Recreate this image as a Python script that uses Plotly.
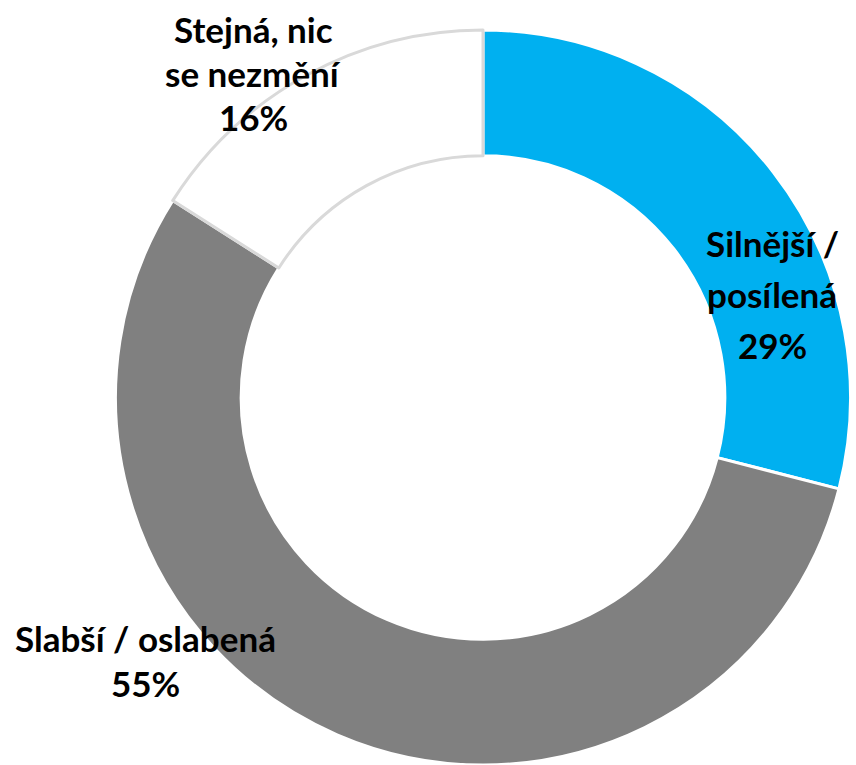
import plotly.graph_objects as go

categories = ["Silnější / posílená", "Slabší / oslabená", "Stejná, nic se nezmění"]
values = [29, 55, 16]
label_lines = [["Silnější /", "posílená"], ["Slabší / oslabená"], ["Stejná, nic", "se nezmění"]]
colors = ["#00B0F0", "#808080", "#FFFFFF"]
border_colors = ["#FFFFFF", "#FFFFFF", "#D9D9D9"]

W, H = 856, 765
fig = go.Figure(go.Pie(
    labels=categories, values=values, sort=False, direction="clockwise", rotation=0,
    hole=0.658, textinfo="none", showlegend=False,
    marker=dict(colors=colors, line=dict(color=border_colors, width=3)),
    domain=dict(x=[(483 - 368) / W, (483 + 368) / W], y=[0, 735 / H]),
))

# label anchor positions (pixels from top-left): x center, y of first line, line spacing
label_pos = [(772, 243, 51), (145, 638, 45), (253, 29, 44)]
font = dict(family="Lato, 'Open Sans', sans-serif", size=35, color="black")
for lines, val, (px, py, dy) in zip(label_lines, values, label_pos):
    all_lines = lines + [f"{val}%"]
    for i, t in enumerate(all_lines):
        fig.add_annotation(text=f"<b>{t}</b>", x=px / W, y=1 - (py + i * dy) / H,
                           xref="paper", yref="paper", showarrow=False,
                           xanchor="center", yanchor="middle", font=font)

fig.update_layout(width=W, height=H, margin=dict(l=0, r=0, t=0, b=0),
                  paper_bgcolor="white", plot_bgcolor="white")
fig.write_html("out.html", config={"displayModeBar": False},
               post_script="document.body.style.margin='0';document.body.style.overflow='hidden';")
